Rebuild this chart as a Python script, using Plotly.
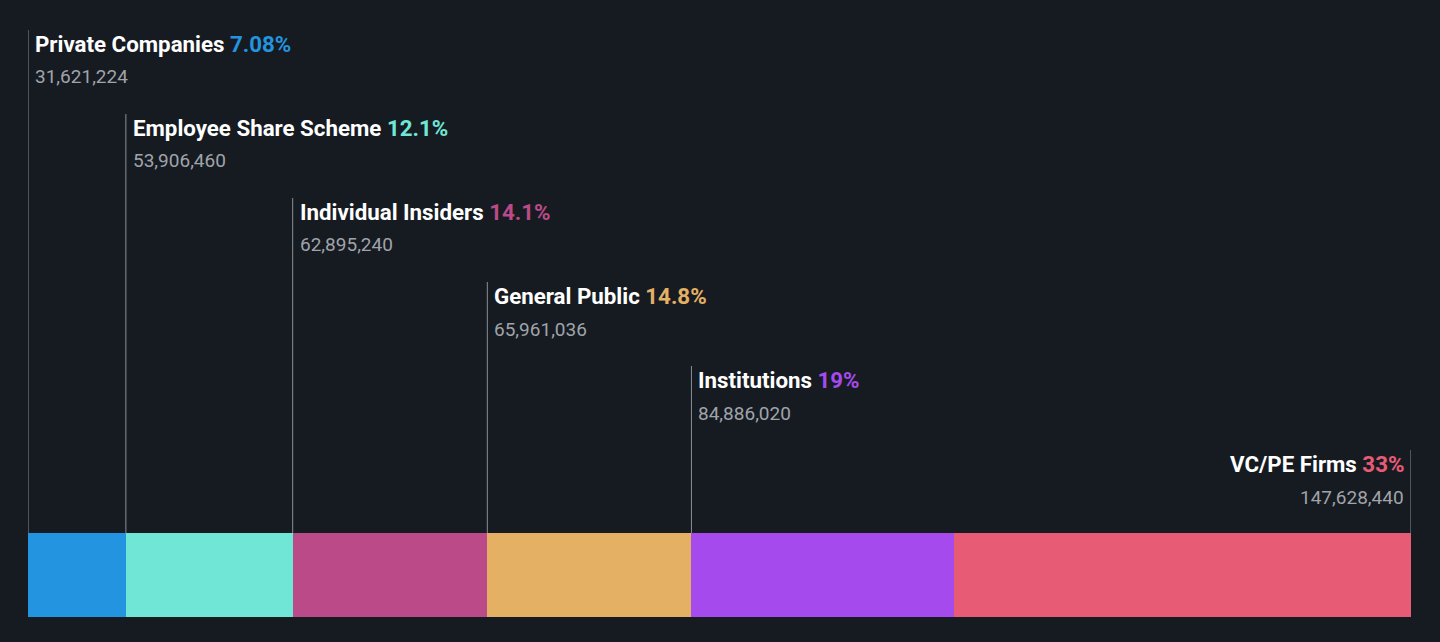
import plotly.graph_objects as go

categories = ["Private Companies", "Employee Share Scheme", "Individual Insiders",
              "General Public", "Institutions", "VC/PE Firms"]
shares = [31621224, 53906460, 62895240, 65961036, 84886020, 147628440]
pct_labels = ["7.08%", "12.1%", "14.1%", "14.8%", "19%", "33%"]
colors = ["#2394df", "#6fe6d6", "#bb4a88", "#e4b064", "#a54aec", "#e85b75"]

H = 617  # plot area height in px (t=0, b=25)
total = sum(shares)

fig = go.Figure()
for c, s, col in zip(categories, shares, colors):
    fig.add_trace(go.Bar(x=[s], y=[0], orientation="h", width=1,
                         marker=dict(color=col, line=dict(width=0)),
                         name=c, hoverinfo="skip"))

def py(pix):
    return (H - pix) / H

start = 0
for i, (c, s, p, col) in enumerate(zip(categories, shares, pct_labels, colors)):
    last = i == len(categories) - 1
    xpos = start + s if last else start
    top = 30 + 84 * i
    fig.add_shape(type="line", xref="x", yref="paper", x0=xpos, x1=xpos,
                  y0=py(top), y1=py(533), line=dict(color="#8a8f96", width=1))
    anchor = "right" if last else "left"
    shift = -5 if last else 5
    fig.add_annotation(x=xpos, y=py(top + 14), xref="x", yref="paper",
                       xanchor=anchor, yanchor="middle", xshift=shift, showarrow=False,
                       text=f"<b>{c}</b> <b style='color:{col}'>{p}</b>",
                       font=dict(size=22.3, color="#ffffff", family="Roboto"))
    fig.add_annotation(x=xpos, y=py(top + 47), xref="x", yref="paper",
                       xanchor=anchor, yanchor="middle", xshift=shift, showarrow=False,
                       text=f"{s:,}", font=dict(size=19, color="#a0a4aa", family="Roboto"))
    start += s

fig.update_layout(
    barmode="stack", width=1440, height=642, showlegend=False,
    paper_bgcolor="#161b22", plot_bgcolor="#161b22",
    margin=dict(l=28, r=29, t=0, b=25),
    xaxis=dict(range=[0, total], visible=False, fixedrange=True),
    yaxis=dict(range=[-0.5, -0.5 + H / 84], visible=False, fixedrange=True),
    bargap=0,
)
fig.write_html("out.html", config={"displayModeBar": False},
               post_script="document.body.style.margin='0';document.body.style.background='#161b22';")
